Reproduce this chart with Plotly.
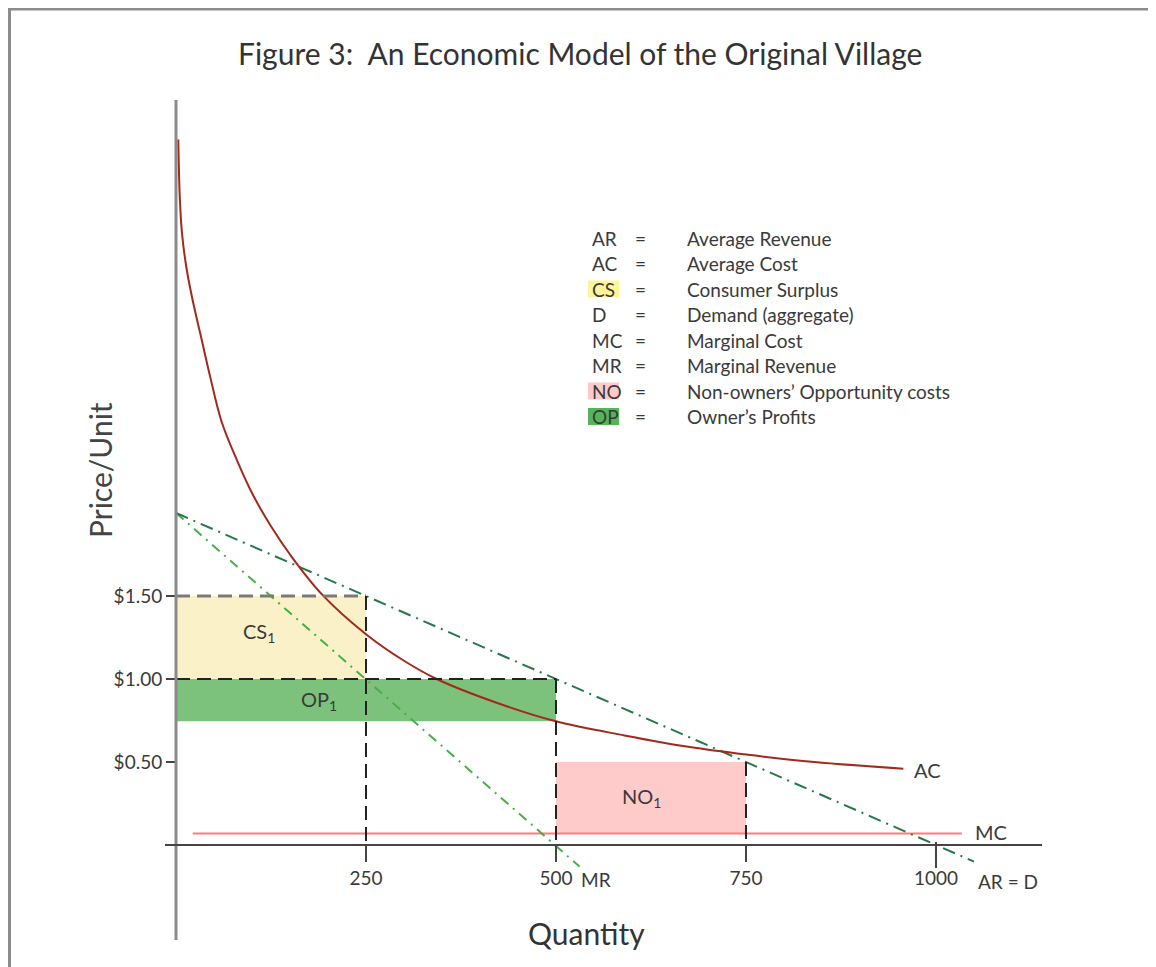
import plotly.graph_objects as go

# The page adds an 8px body margin, so the figure is sized to fill the rest.
OFF = 8
W, H = 1156 - OFF, 967 - OFF
FONT = "Lato"

# ---------------- data ----------------
ac_q = [3, 5, 8, 14, 22, 33, 45, 60, 80, 100, 125, 150, 192, 250, 300, 343, 420, 500, 590, 676, 750, 840, 957]
ac_p = [4.25, 3.90, 3.68, 3.47, 3.28, 3.06, 2.82, 2.55, 2.32, 2.12, 1.92, 1.75, 1.51, 1.27, 1.11, 1.00,
        0.86, 0.745, 0.66, 0.59, 0.545, 0.50, 0.46]
ar_q = [0, 1050]
ar_p = [2.0, -0.10]
mr_q = [0, 531]
mr_p = [2.0, -0.13]
mc_q = [22, 1034]
mc_p = [0.07, 0.07]

qty_ticks = [250, 500, 750, 1000]
qty_labels = ["250", "500", "750", "1000"]
price_ticks = [0.5, 1.0, 1.5]
price_labels = ["$0.50", "$1.00", "$1.50"]

cs_q = [0, 250]
cs_p = [1.0, 1.5]
op_q = [0, 500]
op_p = [0.745, 1.0]
no_q = [500, 750]
no_p = [0.07, 0.5]

legend_abbr = ["AR", "AC", "CS", "D", "MC", "MR", "NO", "OP"]
legend_desc = ["Average Revenue", "Average Cost", "Consumer Surplus", "Demand (aggregate)",
               "Marginal Cost", "Marginal Revenue", "Non-owners\u2019 Opportunity costs", "Owner\u2019s Profits"]
legend_hl = {"CS": "#fdf59a", "NO": "#ffc9c9", "OP": "#55b45a"}

# ---------------- layout helpers (page pixel -> paper) ----------------
def px(x):
    return (x - OFF) / W

def py(y):
    return 1 - (y - OFF) / H

# axis scale: q=0 at page x=176, 0.76 px/unit ; p=0 at page y=845, 166 px/unit
X0, Y0, SX, SY = 176 - OFF, 845 - OFF, 0.76, 166
x_range = [-X0 / SX, (W - X0) / SX]
y_range = [(Y0 - H) / SY, Y0 / SY]

fig = go.Figure()

# curves
fig.add_trace(go.Scatter(x=mc_q, y=mc_p, mode="lines",
                         line=dict(color="#ff7b7b", width=2), hoverinfo="skip"))
fig.add_trace(go.Scatter(x=mr_q, y=mr_p, mode="lines",
                         line=dict(color="#45b045", width=2, dash="10px,6px,2px,6px"), hoverinfo="skip"))
fig.add_trace(go.Scatter(x=ar_q, y=ar_p, mode="lines",
                         line=dict(color="#26784a", width=2, dash="13px,6px,2px,6px"), hoverinfo="skip"))
fig.add_trace(go.Scatter(x=ac_q, y=ac_p, mode="lines", line_shape="spline", line_smoothing=1.0,
                         line=dict(color="#a02a1c", width=2), hoverinfo="skip"))

shapes = []
# filled regions
for (q, p, col) in [(cs_q, cs_p, "#fbf1c9"), (op_q, op_p, "#7cc27c"), (no_q, no_p, "#ffcaca")]:
    shapes.append(dict(type="rect", xref="x", yref="y", x0=q[0], x1=q[1], y0=p[0], y1=p[1],
                       fillcolor=col, line_width=0, layer="below"))
# dashed guide lines
DASH = "14px,7px"
shapes.append(dict(type="line", xref="x", yref="y", x0=0, x1=cs_q[1], y0=cs_p[1], y1=cs_p[1],
                   line=dict(color="#7a7a7a", width=3, dash=DASH)))
shapes.append(dict(type="line", xref="x", yref="y", x0=0, x1=op_q[1], y0=op_p[1], y1=op_p[1],
                   line=dict(color="#222", width=2, dash=DASH)))
shapes.append(dict(type="line", xref="x", yref="y", x0=cs_q[1], x1=cs_q[1], y0=cs_p[1], y1=0,
                   line=dict(color="#222", width=2, dash=DASH)))
shapes.append(dict(type="line", xref="x", yref="y", x0=op_q[1], x1=op_q[1], y0=op_p[1], y1=0,
                   line=dict(color="#222", width=2, dash=DASH)))
shapes.append(dict(type="line", xref="x", yref="y", x0=no_q[1], x1=no_q[1], y0=no_p[1], y1=0,
                   line=dict(color="#222", width=2, dash=DASH)))
# axis lines
shapes.append(dict(type="line", xref="x", yref="y", x0=0, x1=0, y0=(845 - 940) / SY, y1=(845 - 100) / SY,
                   line=dict(color="#8a8a8a", width=3)))
shapes.append(dict(type="line", xref="x", yref="y", x0=(165 - 176) / SX, x1=(1042 - 176) / SX, y0=0, y1=0,
                   line=dict(color="#444", width=2)))
# the last quantity tick is drawn a little longer, crossing the axis
shapes.append(dict(type="line", xref="x", yref="y", x0=qty_ticks[-1], x1=qty_ticks[-1],
                   y0=3 / SY, y1=-23 / SY, line=dict(color="#444", width=2)))
# frame (left and top edges)
shapes.append(dict(type="path", xref="paper", yref="paper",
                   path=f"M {px(9.5)} {py(975)} L {px(9.5)} {py(9)} L {px(1170)} {py(9)}",
                   line=dict(color="#8c8c8c", width=3)))

annotations = []
TXT = "#3a3a3a"

def label(x, y, text, size, xanchor="center", color=TXT, **kw):
    annotations.append(dict(xref="paper", yref="paper", x=px(x), y=py(y), text=text,
                            xanchor=xanchor, yanchor="middle", showarrow=False,
                            font=dict(family=FONT, size=size, color=color), **kw))

label(580, 53, "Figure 3:  An Economic Model of the Original Village", 30, color="#333")
label(100, 470, "Price/Unit", 30, color="#444", textangle=-90)
label(586, 933, "Quantity", 30, color="#333")

# region labels
label(259, 632, "CS<sub>1</sub>", 20)
label(319, 700, "OP<sub>1</sub>", 20)
label(641, 797, "NO<sub>1</sub>", 20)
# curve labels
label(912, 770, "AC", 20, xanchor="left")
label(973, 832, "MC", 20, xanchor="left")
label(579, 879, "MR", 19, xanchor="left")
label(976, 881, "AR = D", 19, xanchor="left")

# legend block
for i, (ab, desc) in enumerate(zip(legend_abbr, legend_desc)):
    yy = 238 + 25.5 * i
    if ab in legend_hl:
        shapes.append(dict(type="rect", xref="paper", yref="paper", x0=px(588), x1=px(619),
                           y0=py(yy + 8.5), y1=py(yy - 8.5), fillcolor=legend_hl[ab], line_width=0, layer="below"))
    label(590, yy, ab, 19, xanchor="left")
    label(640, yy, "=", 19)
    label(685, yy, desc, 19, xanchor="left")

fig.update_layout(
    width=W, height=H, margin=dict(l=0, r=0, t=0, b=0),
    paper_bgcolor="white", plot_bgcolor="white", showlegend=False,
    shapes=shapes, annotations=annotations,
    xaxis=dict(range=x_range, domain=[0, 1], anchor="free", position=py(845), showgrid=False, zeroline=False,
               showline=False, tickvals=qty_ticks, ticktext=qty_labels, ticks="outside", ticklen=16,
               tickwidth=2, tickcolor="#444", tickfont=dict(family=FONT, size=19, color=TXT), fixedrange=True),
    yaxis=dict(range=y_range, domain=[0, 1], anchor="free", position=px(176), showgrid=False, zeroline=False,
               showline=False, tickvals=price_ticks, ticktext=price_labels, ticks="outside", ticklen=10,
               tickwidth=2, tickcolor="#444", tickfont=dict(family=FONT, size=19, color=TXT), fixedrange=True),
)

fig.write_html("out.html")
